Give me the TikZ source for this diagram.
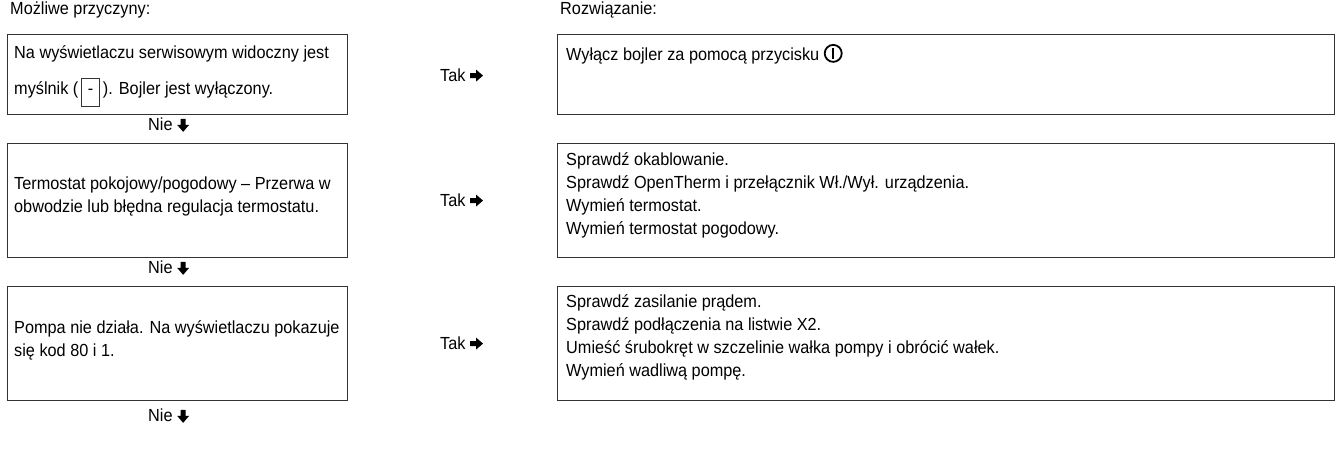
\documentclass[tikz,border=0pt]{standalone}
\usepackage{fontspec}
\setmainfont{Liberation Sans}[FakeStretch=0.93]
\begin{document}
\begin{tikzpicture}[x=1pt,y=-1pt,
  box/.style={draw=black!80,line width=0.8pt,rectangle,anchor=north west,inner sep=0pt},
  txt/.style={anchor=west,inner sep=0pt,font=\fontsize{17.5}{23}\selectfont,align=left},
  lbl/.style={anchor=west,inner sep=0pt,font=\fontsize{17.5}{17}\selectfont}]
\useasboundingbox[fill=white] (0,0) rectangle (1340,465);
\newcommand\darr{\tikz[baseline=0pt,x=1pt,y=1pt]\fill (-2.5,12)--(2.5,12)--(2.5,6)--(6,6)--(0,-1)--(-6,6)--(-2.5,6)--cycle;}
\newcommand\rarr{\tikz[baseline=0pt,x=1pt,y=1pt]\fill (0,3)--(0,8)--(6,8)--(6,11.5)--(13,5.5)--(6,-0.5)--(6,3)--cycle;}
\newcommand\pwr{\tikz[baseline=0pt,x=1pt,y=1pt]{\draw[line width=1.8pt] (9,7) circle (8.5);\draw[line width=2pt] (9,1.5)--(9,12.5);}}
\node[lbl] (h1) at (10,10) {Możliwe przyczyny:};
\node[lbl] (h2) at (560,10) {Rozwiązanie:};
% row 1
\node[box,minimum width=340pt,minimum height=80pt] (l1) at (7,34) {};
\node[txt] (l1a) at (14,54) {Na wyświetlaczu serwisowym widoczny jest};
\node[txt] (l1b) at (14,92) {myślnik (\,\tikz[baseline=(d.base)]\node[draw=black!80,line width=0.7pt,minimum width=18pt,minimum height=28pt,inner sep=0pt] (d) {-};\,). Bojler jest wyłączony.};
\node[lbl] (t1) at (440,75) {Tak \rarr};
\node[box,minimum width=777pt,minimum height=80pt] (r1) at (557,34) {};
\node[txt] (r1a) at (566,54) {Wyłącz bojler za pomocą przycisku \pwr};
\node[lbl] (n1) at (148,125) {Nie \darr};
% row 2
\node[box,minimum width=340pt,minimum height=114pt] (l2) at (7,143) {};
\node[txt] (l2a) at (14,196.5) {Termostat pokojowy/pogodowy – Przerwa w\\obwodzie lub błędna regulacja termostatu.};
\node[lbl] (t2) at (440,200) {Tak \rarr};
\node[box,minimum width=777pt,minimum height=114pt] (r2) at (557,143) {};
\node[txt] (r2a) at (566,195) {Sprawdź okablowanie.\\Sprawdź OpenTherm i przełącznik Wł./Wył. urządzenia.\\Wymień termostat.\\Wymień termostat pogodowy.};
\node[lbl] (n2) at (148,268) {Nie \darr};
% row 3
\node[box,minimum width=340pt,minimum height=114pt] (l3) at (7,286) {};
\node[txt] (l3a) at (14,340) {Pompa nie działa. Na wyświetlaczu pokazuje\\się kod 80 i 1.};
\node[lbl] (t3) at (440,343) {Tak \rarr};
\node[box,minimum width=777pt,minimum height=114pt] (r3) at (557,286) {};
\node[txt] (r3a) at (566,337) {Sprawdź zasilanie prądem.\\Sprawdź podłączenia na listwie X2.\\Umieść śrubokręt w szczelinie wałka pompy i obrócić wałek.\\Wymień wadliwą pompę.};
\node[lbl] (n3) at (148,416) {Nie \darr};
\end{tikzpicture}
\end{document}
